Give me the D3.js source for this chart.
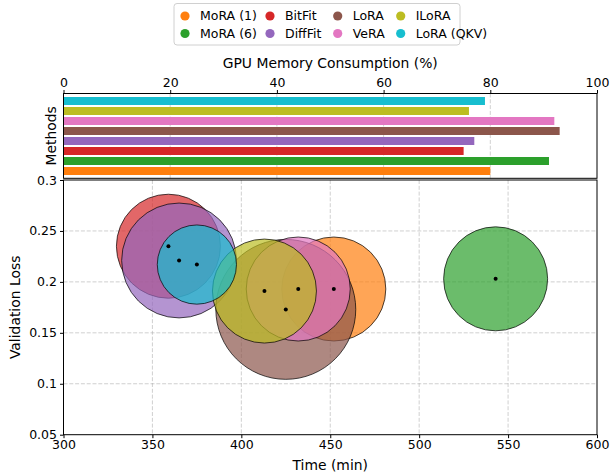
<!DOCTYPE html>
<html>
<head>
<meta charset="utf-8">
<script src="https://cdn.jsdelivr.net/npm/d3@7"></script>
<style>
  body { margin: 0; background: #fff; }
  text { font-family: "DejaVu Sans", sans-serif; fill: #000; }
</style>
</head>
<body>
<svg id="chart" width="611" height="473"></svg>
<script>
// ---- data ----
const methods = ["MoRA (1)", "MoRA (6)", "BitFit", "DiffFit", "LoRA", "VeRA", "ILoRA", "LoRA (QKV)"];
const colors  = ["#ff7f0e", "#2ca02c", "#d62728", "#9467bd", "#8c564b", "#e377c2", "#bcbd22", "#17becf"];
const memory  = [80, 91, 75, 77, 93, 92, 76, 79];            // GPU memory (%)
const timeMin = [452, 543, 359, 365, 425, 432, 413, 375];    // time (min)
const valLoss = [0.193, 0.203, 0.235, 0.221, 0.173, 0.193, 0.191, 0.217];
const bubble  = [1, 1, 1, 1.22, 1.81, 1, 1, 0.58];           // relative bubble area
const memTicks  = [0, 20, 40, 60, 80, 100];
const timeTicks = [300, 350, 400, 450, 500, 550, 600];
const lossTicks = [0.05, 0.1, 0.15, 0.2, 0.25, 0.3];

const svg = d3.select("#chart");
const L = 63.5, R = 597;
const barTop = 93.5, barBot = 178.3;
const scTop = 180, scBot = 434.7;
const tickFont = "12.5px", labFont = "13.9px";

const gridStyle = sel => sel.attr("stroke", "#b0b0b0").attr("stroke-opacity", 0.75)
  .attr("stroke-width", 0.8).attr("stroke-dasharray", "4,1.8");

// ---- bar panel ----
const xm = d3.scaleLinear().domain([0, 100]).range([L, R]);
const yb = d3.scaleBand().domain(d3.range(methods.length)).range([barBot - 2.3, barTop + 2.5]).paddingInner(0.2).paddingOuter(0.1);

svg.append("g").selectAll("line").data(memTicks.slice(1, -1)).join("line")
  .attr("x1", d => xm(d)).attr("x2", d => xm(d)).attr("y1", barTop).attr("y2", barBot)
  .call(gridStyle);

svg.append("g").selectAll("rect").data(methods).join("rect")
  .attr("x", xm(0)).attr("y", (d, i) => yb(i))
  .attr("width", (d, i) => xm(memory[i]) - xm(0)).attr("height", yb.bandwidth())
  .attr("fill", (d, i) => colors[i]);

svg.append("rect").attr("x", L).attr("y", barTop).attr("width", R - L).attr("height", barBot - barTop)
  .attr("fill", "none").attr("stroke", "#000").attr("stroke-width", 1);

const topAxis = svg.append("g").attr("transform", `translate(0,${barTop})`)
  .call(d3.axisTop(xm).tickValues(memTicks).tickSize(3.5).tickPadding(3).tickFormat(d3.format("d")));
topAxis.select(".domain").remove();
topAxis.selectAll("text").style("font-size", tickFont).style("font-family", "DejaVu Sans");

svg.append("text").attr("x", (L + R) / 2).attr("y", 68).attr("text-anchor", "middle")
  .style("font-size", labFont).text("GPU Memory Consumption (%)");
svg.append("text").attr("transform", `translate(56,${(barTop + barBot) / 2}) rotate(-90)`)
  .attr("text-anchor", "middle").style("font-size", labFont).text("Methods");

// ---- bubble panel ----
const xt = d3.scaleLinear().domain([300, 600]).range([L, R]);
const yl = d3.scaleLinear().domain([0.05, 0.3]).range([scBot, scTop]);
const rs = d3.scaleSqrt().domain([0, 1]).range([0, 52]);

const g2 = svg.append("g");
g2.selectAll("line.vx").data(timeTicks.slice(1, -1)).join("line")
  .attr("x1", d => xt(d)).attr("x2", d => xt(d)).attr("y1", scTop).attr("y2", scBot).call(gridStyle);
g2.selectAll("line.hy").data(lossTicks.slice(1, -1)).join("line")
  .attr("x1", L).attr("x2", R).attr("y1", d => yl(d)).attr("y2", d => yl(d)).call(gridStyle);

svg.append("clipPath").attr("id", "clip").append("rect")
  .attr("x", L).attr("y", scTop).attr("width", R - L).attr("height", scBot - scTop);

const gb = svg.append("g").attr("clip-path", "url(#clip)");
gb.selectAll("circle.b").data(methods).join("circle")
  .attr("cx", (d, i) => xt(timeMin[i])).attr("cy", (d, i) => yl(valLoss[i]))
  .attr("r", (d, i) => rs(bubble[i]))
  .attr("fill", (d, i) => colors[i]).attr("fill-opacity", 0.7)
  .attr("stroke", "#000").attr("stroke-opacity", 0.7).attr("stroke-width", 1);
gb.selectAll("circle.d").data(methods).join("circle")
  .attr("cx", (d, i) => xt(timeMin[i])).attr("cy", (d, i) => yl(valLoss[i]))
  .attr("r", 2).attr("fill", "#000");

svg.append("rect").attr("x", L).attr("y", scTop).attr("width", R - L).attr("height", scBot - scTop)
  .attr("fill", "none").attr("stroke", "#000").attr("stroke-width", 1);

const bAxis = svg.append("g").attr("transform", `translate(0,${scBot})`)
  .call(d3.axisBottom(xt).tickValues(timeTicks).tickSize(3.5).tickPadding(2).tickFormat(d3.format("d")));
bAxis.select(".domain").remove();
bAxis.selectAll("text").style("font-size", tickFont).style("font-family", "DejaVu Sans");

const lAxis = svg.append("g").attr("transform", `translate(${L},0)`)
  .call(d3.axisLeft(yl).tickValues(lossTicks).tickSize(3.5).tickPadding(3).tickFormat(d => String(+d.toFixed(2))));
lAxis.select(".domain").remove();
lAxis.selectAll("text").style("font-size", tickFont).style("font-family", "DejaVu Sans");

svg.append("text").attr("x", (L + R) / 2).attr("y", 470).attr("text-anchor", "middle")
  .style("font-size", labFont).text("Time (min)");
svg.append("text").attr("transform", `translate(20,${(scTop + scBot) / 2}) rotate(-90)`)
  .attr("text-anchor", "middle").style("font-size", labFont).text("Validation Loss");

// ---- legend ----
const lg = svg.append("g");
lg.append("rect").attr("x", 174).attr("y", 3.5).attr("width", 286).attr("height", 41.5)
  .attr("rx", 3).attr("fill", "#fff").attr("stroke", "#d0d0d0").attr("stroke-width", 1);
const colX = [185, 270, 337.7, 400.7];
const rowY = [16, 33.5];
methods.forEach((m, i) => {
  const c = Math.floor(i / 2), r = i % 2;
  lg.append("circle").attr("cx", colX[c]).attr("cy", rowY[r]).attr("r", 4.6).attr("fill", colors[i]);
  lg.append("text").attr("x", colX[c] + 15).attr("y", rowY[r]).attr("dy", "0.35em")
    .style("font-size", tickFont).text(m);
});
</script>
</body>
</html>
